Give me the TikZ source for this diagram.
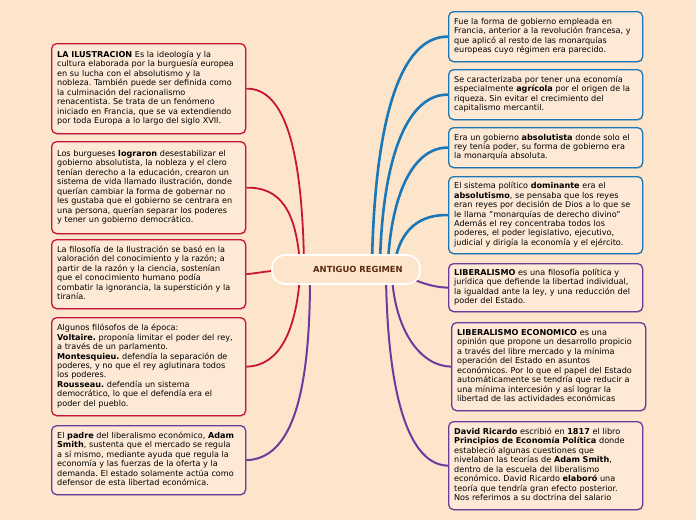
\documentclass[tikz,border=0pt]{standalone}
\usepackage{fontspec}
\setmainfont{DejaVu Sans}
\usetikzlibrary{shadows}
\frenchspacing
\definecolor{bgc}{HTML}{FDE5CC}
\definecolor{boxf}{HTML}{FDE9D6}
\definecolor{redc}{HTML}{C9143A}
\definecolor{bluec}{HTML}{1A78B8}
\definecolor{purc}{HTML}{6A3C9C}
\definecolor{titc}{HTML}{5A2A0C}
\newcommand{\bx}[1]{\begin{tabular}{@{}l@{}}#1\end{tabular}}
\tikzset{
  card/.style={draw, rounded corners=5pt, line width=1.3pt, fill=boxf,
    anchor=north west, minimum width=194pt, text width=183pt, inner xsep=5.5pt,
    inner ysep=0pt, align=left, text=black,
    font=\fontsize{8.1}{9.45}\selectfont,
    drop shadow={opacity=0.18, shadow xshift=0.8pt, shadow yshift=-1.2pt}},
  redcard/.style={card, draw=redc},
  bluecard/.style={card, draw=bluec},
  purcard/.style={card, draw=purc},
  redline/.style={draw=redc, line width=1.8pt},
  blueline/.style={draw=bluec, line width=2.6pt},
  purline/.style={draw=purc, line width=2pt},
}
\begin{document}
\begin{tikzpicture}[x=1pt,y=-1pt]
\useasboundingbox[fill=bgc] (0,0) rectangle (696,520);

% boxes left
\node[redcard, minimum height=90pt] (L1) at (51,43) {\bx{%
\textbf{LA ILUSTRACION} Es la ideología y la\\
cultura elaborada por la burguesía europea\\
en su lucha con el absolutismo y la\\
nobleza. También puede ser definida como\\
la culminación del racionalismo\\
renacentista. Se trata de un fenómeno\\
iniciado en Francia, que se va extendiendo\\
por toda Europa a lo largo del siglo XVII.}};

\node[redcard, minimum height=92pt] (L2) at (51,141) {\bx{%
Los burgueses \textbf{lograron} desestabilizar el\\
gobierno absolutista, la nobleza y el clero\\
tenían derecho a la educación, crearon un\\
sistema de vida llamado ilustración, donde\\
querían cambiar la forma de gobernar no\\
les gustaba que el gobierno se centrara en\\
una persona, querían separar los poderes\\
y tener un gobierno democrático.}};

\node[redcard, minimum height=69pt] (L3) at (51,239) {\bx{%
La filosofía de la Ilustración se basó en la\\
valoración del conocimiento y la razón; a\\
partir de la razón y la ciencia, sostenían\\
que el conocimiento humano podía\\
combatir la ignorancia, la superstición y la\\
tiranía.}};

\node[redcard, minimum height=98pt] (L4) at (51,317) {\bx{%
Algunos filósofos de la época:\\
\textbf{Voltaire.} proponía limitar el poder del rey,\\
a través de un parlamento.\\
\textbf{Montesquieu.} defendía la separación de\\
poderes, y no que el rey aglutinara todos\\
los poderes.\\
\textbf{Rousseau.} defendía un sistema\\
democrático, lo que el defendía era el\\
poder del pueblo.}};

\node[purcard, minimum height=69pt] (L5) at (51,425) {\bx{%
El \textbf{padre} del liberalismo económico, \textbf{Adam}\\
\textbf{Smith}, sustenta que el mercado se regula\\
a sí mismo, mediante ayuda que regula la\\
economía y las fuerzas de la oferta y la\\
demanda. El estado solamente actúa como\\
defensor de esta libertad económica.}};

% boxes right
\node[bluecard, minimum height=50pt] (R1) at (448,11) {\bx{%
Fue la forma de gobierno empleada en\\
Francia, anterior a la revolución francesa, y\\
que aplicó al resto de las monarquías\\
europeas cuyo régimen era parecido.}};

\node[bluecard, minimum height=50pt] (R2) at (448,69) {\bx{%
Se caracterizaba por tener una economía\\
especialmente \textbf{agrícola} por el origen de la\\
riqueza. Sin evitar el crecimiento del\\
capitalismo mercantil.}};

\node[bluecard, minimum height=40pt] (R3) at (448,127) {\bx{%
Era un gobierno \textbf{absolutista} donde solo el\\
rey tenía poder, su forma de gobierno era\\
la monarquía absoluta.}};

\node[bluecard, minimum height=77pt] (R4) at (448,176) {\bx{%
El sistema político \textbf{dominante} era el\\
\textbf{absolutismo}, se pensaba que los reyes\\
eran reyes por decisión de Dios a lo que se\\
le llama "monarquías de derecho divino"\\
Además el rey concentraba todos los\\
poderes, el poder legislativo, ejecutivo,\\
judicial y dirigía la economía y el ejército.}};

\node[purcard, minimum height=48pt] (R5) at (448,263) {\bx{%
\textbf{LIBERALISMO} es una filosofía política y\\
jurídica que defiende la libertad individual,\\
la igualdad ante la ley, y una reducción del\\
poder del Estado.}};

\node[purcard, minimum height=88pt] (R6) at (451,322) {\bx{%
\textbf{LIBERALISMO ECONOMICO} es una\\
opinión que propone un desarrollo propicio\\
a través del libre mercado y la mínima\\
operación del Estado en asuntos\\
económicos. Por lo que el papel del Estado\\
automáticamente se tendría que reducir a\\
una mínima intercesión y así lograr la\\
libertad de las actividades económicas}};

\node[purcard, minimum height=88pt] (R7) at (448,421) {\bx{%
\textbf{David Ricardo} escribió en \textbf{1817} el libro\\
\textbf{Principios de Economía Política} donde\\
estableció algunas cuestiones que\\
nivelaban las teorías de \textbf{Adam Smith},\\
dentro de la escuela del liberalismo\\
económico. David Ricardo \textbf{elaboró} una\\
teoría que tendría gran efecto posterior.\\
Nos referimos a su doctrina del salario}};

% connector origins (hidden behind the central node)
\coordinate (sr1) at (304,262);
\coordinate (sr2) at (300,264);
\coordinate (sr3) at (290,270);
\coordinate (sr4) at (300,276);
\coordinate (sp5) at (310,278);
\coordinate (sb1) at (372,262);
\coordinate (sb2) at (380,262);
\coordinate (sb3) at (388,262);
\coordinate (sb4) at (395,262);
\coordinate (sp1) at (400,274);
\coordinate (sp2) at (392,276);
\coordinate (sp3) at (386,278);

\draw[redline] (sr1) .. controls (302,150) and (285,88) .. (L1.east);
\draw[redline] (sr2) .. controls (296,210) and (280,187) .. (L2.east);
\draw[redline] (sr3) .. controls (270,270) and (260,273) .. (L3.east);
\draw[redline] (sr4) .. controls (296,330) and (280,366) .. (L4.east);
\draw[purline] (sp5) .. controls (310,400) and (290,459) .. (L5.east);

\draw[blueline] (sb1) .. controls (375,120) and (400,36) .. (R1.west);
\draw[blueline] (sb2) .. controls (383,150) and (410,94) .. (R2.west);
\draw[blueline] (sb3) .. controls (392,190) and (415,147) .. (R3.west);
\draw[blueline] (sb4) .. controls (400,230) and (420,214) .. (R4.west);
\draw[purline] (sp1) .. controls (420,282) and (430,287) .. (R5.west);
\draw[purline] (sp2) .. controls (395,330) and (420,366) .. (R6.west);
\draw[purline] (sp3) .. controls (388,400) and (410,465) .. (R7.west);

% central node
\node[draw=white, line width=1.6pt, fill=bgc, rounded corners=13pt,
  minimum width=148pt, minimum height=29pt, inner sep=0pt,
  font=\fontsize{8.4}{10}\selectfont\bfseries, text=titc] (C) at (346,269.5) {\hspace*{24pt}ANTIGUO REGIMEN};
\end{tikzpicture}
\end{document}
